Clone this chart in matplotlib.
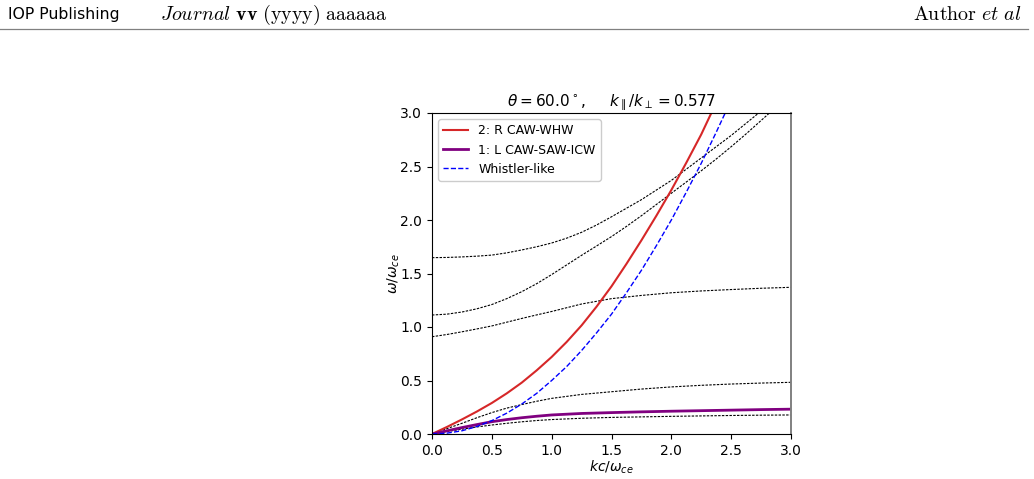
import matplotlib
matplotlib.use("Agg")
import matplotlib.pyplot as plt
from matplotlib.lines import Line2D

# ---------------- data ----------------
x_fine = [0.0, 0.125, 0.25, 0.375, 0.5, 0.625, 0.75, 0.875, 1.0, 1.25, 1.5, 1.75,
          2.0, 2.25, 2.5, 2.75, 3.0]

# highlighted branches
red_x = [0.0, 0.125, 0.25, 0.375, 0.5, 0.625, 0.75, 0.875, 1.0, 1.125, 1.25, 1.375,
         1.5, 1.625, 1.75, 1.875, 2.0, 2.125, 2.25, 2.33]
red_y = [0.0, 0.066, 0.136, 0.21, 0.29, 0.38, 0.48, 0.595, 0.72, 0.86, 1.015, 1.19,
         1.38, 1.59, 1.81, 2.04, 2.28, 2.535, 2.80, 2.99]

purple_y = [0.0, 0.03, 0.06, 0.088, 0.115, 0.135, 0.152, 0.166, 0.178, 0.192, 0.200,
            0.207, 0.213, 0.218, 0.223, 0.228, 0.232]

blue_x = [0.0, 0.125, 0.25, 0.375, 0.5, 0.625, 0.75, 0.875, 1.0, 1.125, 1.25, 1.375,
          1.5, 1.625, 1.75, 1.875, 2.0, 2.125, 2.25, 2.375, 2.45]
blue_y = [0.0, 0.008, 0.03, 0.07, 0.125, 0.195, 0.28, 0.38, 0.5, 0.63, 0.78, 0.945,
          1.12, 1.32, 1.53, 1.76, 2.0, 2.26, 2.53, 2.82, 3.0]

# other (dotted) branches
b1_y = [0.0, 0.023, 0.045, 0.066, 0.084, 0.100, 0.114, 0.126, 0.135, 0.147, 0.155,
        0.160, 0.165, 0.169, 0.173, 0.176, 0.178]
b2_y = [0.0, 0.05, 0.10, 0.152, 0.20, 0.242, 0.275, 0.306, 0.333, 0.37, 0.395, 0.42,
        0.44, 0.455, 0.467, 0.476, 0.483]
b3_y = [0.909, 0.93, 0.955, 0.982, 1.01, 1.045, 1.08, 1.113, 1.145, 1.215, 1.265,
        1.295, 1.32, 1.337, 1.35, 1.362, 1.371]
b4_x = [0.0, 0.125, 0.25, 0.375, 0.5, 0.625, 0.75, 0.875, 1.0, 1.125, 1.25, 1.375,
        1.5, 1.625, 1.75, 1.875, 2.0, 2.125, 2.25, 2.375, 2.5, 2.625, 2.75, 2.82]
b4_y = [1.112, 1.12, 1.14, 1.17, 1.21, 1.265, 1.33, 1.405, 1.49, 1.58, 1.67, 1.757,
        1.845, 1.94, 2.04, 2.145, 2.25, 2.355, 2.46, 2.57, 2.685, 2.805, 2.93, 3.0]
b5_x = [0.0, 0.125, 0.25, 0.375, 0.5, 0.625, 0.75, 0.875, 1.0, 1.125, 1.25, 1.375,
        1.5, 1.625, 1.75, 1.875, 2.0, 2.125, 2.25, 2.375, 2.5, 2.73]
b5_y = [1.648, 1.65, 1.655, 1.662, 1.672, 1.693, 1.72, 1.75, 1.785, 1.83, 1.885, 1.953,
        2.03, 2.11, 2.19, 2.28, 2.37, 2.475, 2.58, 2.685, 2.79, 3.0]

x_ticks = [0.0, 0.5, 1.0, 1.5, 2.0, 2.5, 3.0]
y_ticks = [0.0, 0.5, 1.0, 1.5, 2.0, 2.5, 3.0]

# ---------------- figure ----------------
fig = plt.figure(figsize=(10.34, 4.79), dpi=100)

# page header
fig.text(8 / 1034, 1 - 15 / 479, "IOP Publishing", fontsize=11.3,
         family="DejaVu Sans", va="center", ha="left")
fig.text(160 / 1034, 1 - 15 / 479,
         r"$\mathit{Journal}\ \mathbf{vv}\ \mathrm{(yyyy)\ aaaaaa}$",
         fontsize=14.4, math_fontfamily="cm", va="center", ha="left")
fig.text(1022 / 1034, 1 - 15 / 479, r"$\mathrm{Author}\ \mathit{et\ al}$",
         fontsize=14.4, math_fontfamily="cm", va="center", ha="right")
fig.add_artist(Line2D([0.0, 1028 / 1034], [1 - 28.5 / 479, 1 - 28.5 / 479],
                      transform=fig.transFigure, color="#808080", lw=0.9))

ax = fig.add_axes([432 / 1034, 1 - 434 / 479, 359 / 1034, 321 / 479])

dot = dict(color="black", lw=0.8, linestyle=(0, (2.2, 1.2)))
ax.plot(x_fine, b1_y, **dot)
ax.plot(x_fine, b2_y, **dot)
ax.plot(x_fine, b3_y, **dot)
ax.plot(b4_x, b4_y, **dot)
ax.plot(b5_x, b5_y, **dot)

ax.plot(red_x, red_y, color="#d62728", lw=1.5, label="2: R CAW-WHW")
ax.plot(x_fine, purple_y, color="purple", lw=2.0, label="1: L CAW-SAW-ICW")
ax.plot(blue_x, blue_y, color="blue", lw=1.0, linestyle="--", label="Whistler-like")

ax.set_xlim(0, 3)
ax.set_ylim(0, 3)
ax.set_xticks(x_ticks)
ax.set_yticks(y_ticks)
ax.tick_params(labelsize=10)
ax.set_xlabel(r"$kc/\omega_{ce}$", fontsize=10, labelpad=0.5)
ax.set_ylabel(r"$\omega/\omega_{ce}$", fontsize=10, labelpad=-1.5)
ax.set_title(r"$\theta = 60.0^\circ$,     $k_\parallel/k_\perp = 0.577$", fontsize=11, pad=5)
ax.spines["right"].set_color("#808080")
ax.spines["right"].set_linewidth(1.4)

ax.legend(loc="upper left", fontsize=9, framealpha=1.0, borderaxespad=0.5)

fig.savefig("out.png", dpi=100)
